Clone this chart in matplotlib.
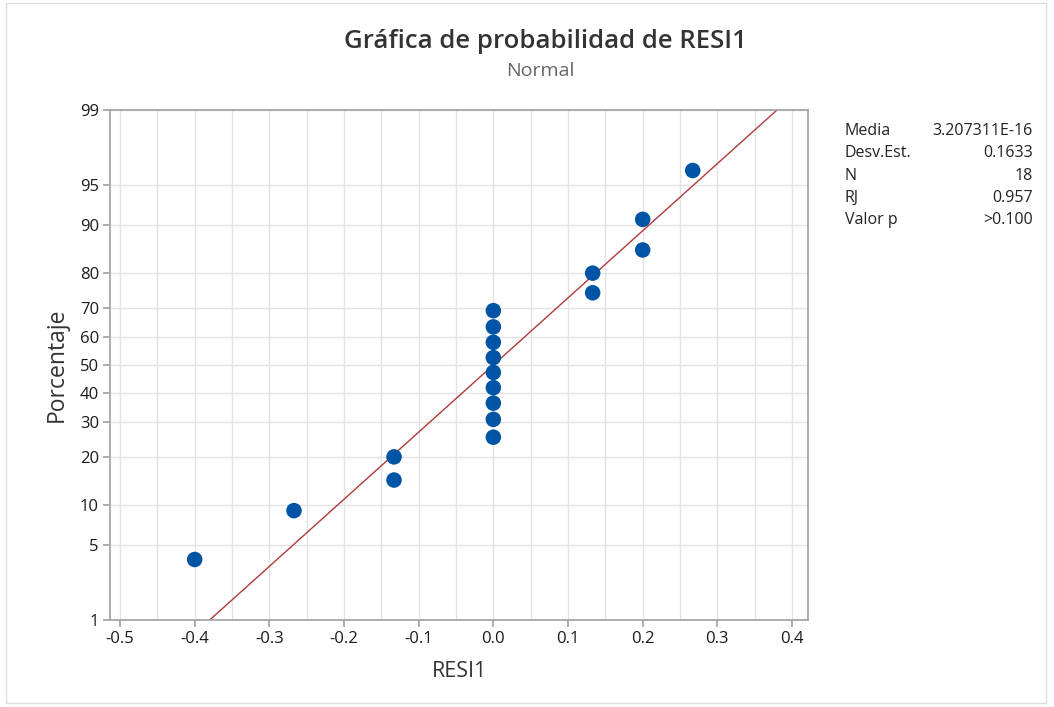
import matplotlib
matplotlib.use("Agg")
import matplotlib.pyplot as plt
from matplotlib.patches import Rectangle
from statistics import NormalDist
import numpy as np

# Data
resid = [-0.400, -0.267, -0.133, -0.133, 0.0, 0.0, 0.0, 0.0, 0.0, 0.0, 0.0, 0.0, 0.0,
         0.133, 0.133, 0.200, 0.200, 0.267]
percent = [3.8, 9.2, 14.7, 20.1, 25.5, 31.0, 36.4, 41.8, 47.3, 52.7, 58.2, 63.6, 69.0,
           74.5, 79.9, 85.3, 90.8, 96.2]
mean_val = 3.207311e-16
sd_val = 0.1633
y_ticks = [1, 5, 10, 20, 30, 40, 50, 60, 70, 80, 90, 95, 99]
x_ticks = [-0.5, -0.4, -0.3, -0.2, -0.1, 0.0, 0.1, 0.2, 0.3, 0.4]
stat_labels = ["Media", "Desv.Est.", "N", "RJ", "Valor p"]
stat_values = ["3.207311E-16", "0.1633", "18", "0.957", ">0.100"]

nd = NormalDist()
def z(p):
    return nd.inv_cdf(p / 100.0)

plt.rcParams['font.family'] = ['Open Sans', 'DejaVu Sans']
fig = plt.figure(figsize=(10.54, 7.07), dpi=100)
ax = fig.add_axes([110/1054, 1-620/707, 698/1054, 510/707])

# grid
for xv in np.arange(-0.5, 0.4001, 0.05):
    ax.axvline(xv, color='#e3e3e3', lw=1, zorder=0)
for yv in y_ticks:
    ax.axhline(z(yv), color='#e3e3e3', lw=1, zorder=0)

# fitted line
xl = np.linspace(-0.6, 0.6, 200)
ax.plot(xl, (xl - mean_val) / sd_val, color='#b03a3a', lw=1.0, zorder=2)

ax.scatter(resid, [z(p) for p in percent], s=125, color='#0054a6', zorder=3, edgecolors='none')

ax.set_xlim(-0.5134, 0.4214)
ax.set_ylim(z(1), z(99))
ax.set_xticks(x_ticks)
ax.set_xticklabels([f"{v:.1f}" for v in x_ticks])
ax.set_yticks([z(v) for v in y_ticks])
ax.set_yticklabels([str(v) for v in y_ticks])
for s in ax.spines.values():
    s.set_color('#a0a0a0')
    s.set_linewidth(1.2)
ax.tick_params(colors='#a0a0a0', labelcolor='#1a1a1a', labelsize=12, length=5, width=1.2, pad=3)

ax.set_xlabel("RESI1", fontsize=15.5, color='#333333', labelpad=10)
ax.set_ylabel("Porcentaje", fontsize=16.5, color='#333333', labelpad=8)

fig.text(545/1054, 1 - 42/707, "Gráfica de probabilidad de RESI1",
         ha='center', va='center', fontsize=18.5, fontweight='semibold', color='#333333')
fig.text(540/1054, 1 - 71/707, "Normal",
         ha='center', va='center', fontsize=14, color='#666666')

for i, (lab, val) in enumerate(zip(stat_labels, stat_values)):
    yy = 1 - (131 + i * 22.3) / 707
    fig.text(845/1054, yy, lab, ha='left', va='center', fontsize=11.5, color='#222222')
    fig.text(1033/1054, yy, val, ha='right', va='center', fontsize=11.5, color='#222222')

fig.patches.append(Rectangle((6/1054, 4/707), 1040/1054, 700/707, transform=fig.transFigure,
                             fill=False, edgecolor='#dddddd', lw=1))

fig.savefig("out.png", dpi=100)
